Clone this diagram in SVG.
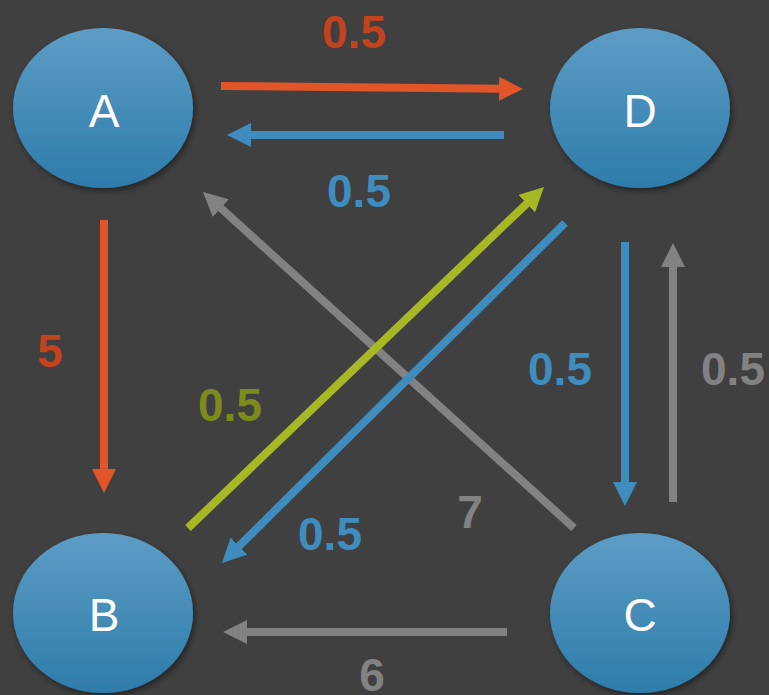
<svg xmlns="http://www.w3.org/2000/svg" width="769" height="695" viewBox="0 0 769 695">
  <style>
    .node-shape { fill: url(#nodeGrad); filter: url(#shadow); }
    .node-label { font-family: "Liberation Sans", Arial, sans-serif; font-size: 46px; fill: #ffffff; text-anchor: middle; }
    .edge { stroke-width: 8; fill: none; }
    .lbl { font-family: "Liberation Sans", Arial, sans-serif; font-size: 46px; font-weight: bold; text-anchor: middle; }
    .orange { stroke: #e15529; }
    .blue { stroke: #3f8dbe; }
    .gray { stroke: #828282; }
    .green { stroke: #a6b924; }
  </style>
  <defs>
    <linearGradient id="nodeGrad" x1="0" y1="0" x2="0" y2="1">
      <stop offset="0" stop-color="#5d9dc5"/>
      <stop offset="1" stop-color="#2d7cab"/>
    </linearGradient>
    <filter id="shadow" x="-20%" y="-20%" width="140%" height="140%">
      <feDropShadow dx="2" dy="3" stdDeviation="3" flood-color="#000000" flood-opacity="0.45"/>
    </filter>
    <marker id="hOrange" markerUnits="userSpaceOnUse" markerWidth="24" markerHeight="24" refX="4" refY="12" orient="auto">
      <path d="M0,0 L24,12 L0,24 Z" fill="#e15529"/>
    </marker>
    <marker id="hBlue" markerUnits="userSpaceOnUse" markerWidth="24" markerHeight="24" refX="4" refY="12" orient="auto">
      <path d="M0,0 L24,12 L0,24 Z" fill="#3f8dbe"/>
    </marker>
    <marker id="hGray" markerUnits="userSpaceOnUse" markerWidth="24" markerHeight="24" refX="4" refY="12" orient="auto">
      <path d="M0,0 L24,12 L0,24 Z" fill="#828282"/>
    </marker>
    <marker id="hGreen" markerUnits="userSpaceOnUse" markerWidth="24" markerHeight="24" refX="4" refY="12" orient="auto">
      <path d="M0,0 L24,12 L0,24 Z" fill="#a6b924"/>
    </marker>
  </defs>
  <rect x="0" y="0" width="769" height="695" fill="#404040"/>

  <g id="connectors">
    <line class="edge orange" x1="221" y1="86" x2="503" y2="88.8" marker-end="url(#hOrange)"/>
    <line class="edge blue" x1="504" y1="135" x2="247" y2="135" marker-end="url(#hBlue)"/>
    <line class="edge orange" x1="104" y1="220" x2="104" y2="473" marker-end="url(#hOrange)"/>
    <line class="edge blue" x1="625" y1="242" x2="625" y2="486" marker-end="url(#hBlue)"/>
    <line class="edge gray" x1="673" y1="502" x2="673" y2="263" marker-end="url(#hGray)"/>
    <line class="edge gray" x1="507" y1="632" x2="243" y2="632" marker-end="url(#hGray)"/>
    <line class="edge gray" x1="574" y1="528" x2="217.8" y2="205.4" marker-end="url(#hGray)"/>
    <line class="edge green" x1="188" y1="528" x2="529.6" y2="200.8" marker-end="url(#hGreen)"/>
    <line class="edge blue" x1="565" y1="223" x2="236.2" y2="548.9" marker-end="url(#hBlue)"/>

    <text class="lbl" x="354" y="48" fill="#c2431d">0.5</text>
    <text class="lbl" x="359" y="207" fill="#3f8dbe">0.5</text>
    <text class="lbl" x="50" y="367" fill="#c2431d">5</text>
    <text class="lbl" x="230" y="421" fill="#7d8b1c">0.5</text>
    <text class="lbl" x="330" y="550" fill="#3f8dbe">0.5</text>
    <text class="lbl" x="470" y="528" fill="#828282">7</text>
    <text class="lbl" x="560" y="385" fill="#3f8dbe">0.5</text>
    <text class="lbl" x="733" y="385" fill="#828282">0.5</text>
    <text class="lbl" x="372" y="691" fill="#828282">6</text>
  </g>

  <g id="node-A">
    <ellipse class="node-shape" cx="103" cy="108" rx="90" ry="80"/>
    <text class="node-label" x="104" y="127">A</text>
  </g>
  <g id="node-D">
    <ellipse class="node-shape" cx="640" cy="108" rx="90" ry="80"/>
    <text class="node-label" x="640" y="127">D</text>
  </g>
  <g id="node-B">
    <ellipse class="node-shape" cx="103" cy="613" rx="90" ry="80"/>
    <text class="node-label" x="104" y="631">B</text>
  </g>
  <g id="node-C">
    <ellipse class="node-shape" cx="640" cy="613" rx="90" ry="80"/>
    <text class="node-label" x="640" y="631">C</text>
  </g>
</svg>
